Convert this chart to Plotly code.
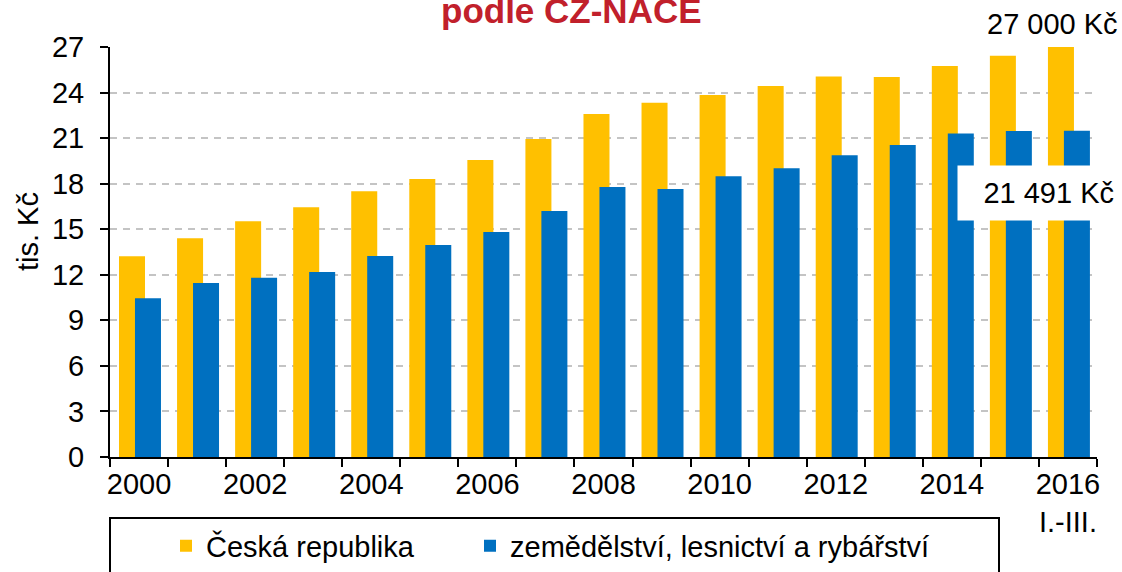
import plotly.graph_objects as go

# ---- data ----
years = [str(y) for y in range(2000, 2017)]
tick_labels = ["2000", "", "2002", "", "2004", "", "2006", "", "2008", "",
               "2010", "", "2012", "", "2014", "", "2016<br>I.-III."]
cr_values = [13.22, 14.40, 15.52, 16.45, 17.50, 18.31, 19.56, 20.94, 22.59,
             23.33, 23.84, 24.43, 25.05, 25.02, 25.75, 26.43, 27.00]
agri_values = [10.45, 11.46, 11.81, 12.18, 13.24, 13.96, 14.82, 16.20, 17.78,
               17.65, 18.49, 19.01, 19.87, 20.54, 21.31, 21.47, 21.491]
series_names = ["Česká republika", "zemědělství, lesnictví a rybářství"]
title_text = "podle CZ-NACE"
y_title = "tis. Kč"
label_top = "27 000 Kč"
label_agri = "21 491 Kč"

# ---- layout geometry (pixels) ----
W, H = 1122, 572
L, R, T, B = 110, 25, 47, 115
PW, PH = W - L - R, H - T - B
FONT = "Liberation Sans, Arial, sans-serif"
FS = 29


def px(x):
    return (x - L) / PW


def py(y):
    return (H - B - y) / PH


def cx(x):
    return x / W


def cy(y):
    return 1 - y / H


YELLOW = "#FFC000"
BLUE = "#0070C0"

fig = go.Figure()
fig.add_trace(go.Bar(x=years, y=cr_values, name=series_names[0],
                     marker=dict(color=YELLOW, line=dict(width=0)),
                     offset=-0.345, width=0.448, legend="legend"))
fig.add_trace(go.Bar(x=years, y=agri_values, name=series_names[1],
                     marker=dict(color=BLUE, line=dict(width=0)),
                     offset=-0.07, width=0.448, legend="legend2"))

leg_common = dict(orientation="h", xanchor="left", yanchor="middle",
                  xref="container", yref="container",
                  bgcolor="rgba(0,0,0,0)", borderwidth=0, itemwidth=30,
                  font=dict(family=FONT, size=FS, color="black"))

fig.update_layout(
    width=W, height=H,
    margin=dict(l=L, r=R, t=T, b=B, pad=0, autoexpand=False),
    paper_bgcolor="white", plot_bgcolor="white",
    barmode="overlay",
    font=dict(family=FONT, size=FS, color="black"),
    showlegend=True,
    legend=dict(x=cx(166), y=cy(546), **leg_common),
    legend2=dict(x=cx(470), y=cy(546), **leg_common),
    xaxis=dict(type="category", range=[-0.5, 16.5], automargin=False,
               tickmode="array", tickvals=years, ticktext=tick_labels,
               tickson="boundaries", ticks="outside", ticklen=8, tickwidth=2,
               tickcolor="black", showline=True, linecolor="black", linewidth=2,
               showgrid=False, tickfont=dict(family=FONT, size=FS, color="black"),
               tickangle=0),
    yaxis=dict(range=[0, 27], tickmode="linear", tick0=0, dtick=3, automargin=False,
               ticks="outside", ticklen=8, tickwidth=2, tickcolor="black",
               ticklabelstandoff=10,
               showline=True, linecolor="black", linewidth=2,
               showgrid=True, gridcolor="#C4C4C4", gridwidth=2, griddash="7px,6px",
               zeroline=False, tickfont=dict(family=FONT, size=FS, color="black")),
)

# legend frame (extends below the visible area, like the reference crop)
fig.add_shape(type="rect", xref="paper", yref="paper",
              x0=px(110), x1=px(999), y0=py(600), y1=py(518),
              line=dict(color="black", width=2), fillcolor="rgba(0,0,0,0)", layer="above")

# title (partially cut at top as in the reference)
fig.add_annotation(text="<b>" + title_text + "</b>", xref="paper", yref="paper",
                   x=px(571), y=py(11), xanchor="center", yanchor="middle",
                   showarrow=False, font=dict(family=FONT, size=35, color="#C1202B"))

# y-axis title
fig.add_annotation(text=y_title, xref="paper", yref="paper", x=px(28), y=py(232),
                   xanchor="center", yanchor="middle", textangle=-90, showarrow=False,
                   font=dict(family=FONT, size=FS, color="black"))

# value labels
fig.add_annotation(text=label_top, xref="paper", yref="paper", x=px(1052), y=py(24),
                   xanchor="center", yanchor="middle", showarrow=False,
                   font=dict(family=FONT, size=FS, color="black"))
fig.add_annotation(text=label_agri, xref="paper", yref="paper", x=px(1039), y=py(193),
                   xanchor="center", yanchor="middle", showarrow=False,
                   width=150, height=42, align="right", valign="middle",
                   bgcolor="white", borderpad=6,
                   font=dict(family=FONT, size=FS, color="black"))

fig.write_html("out.html", config={"displayModeBar": False},
               post_script="document.body.style.margin='0';document.body.style.overflow='hidden';")
